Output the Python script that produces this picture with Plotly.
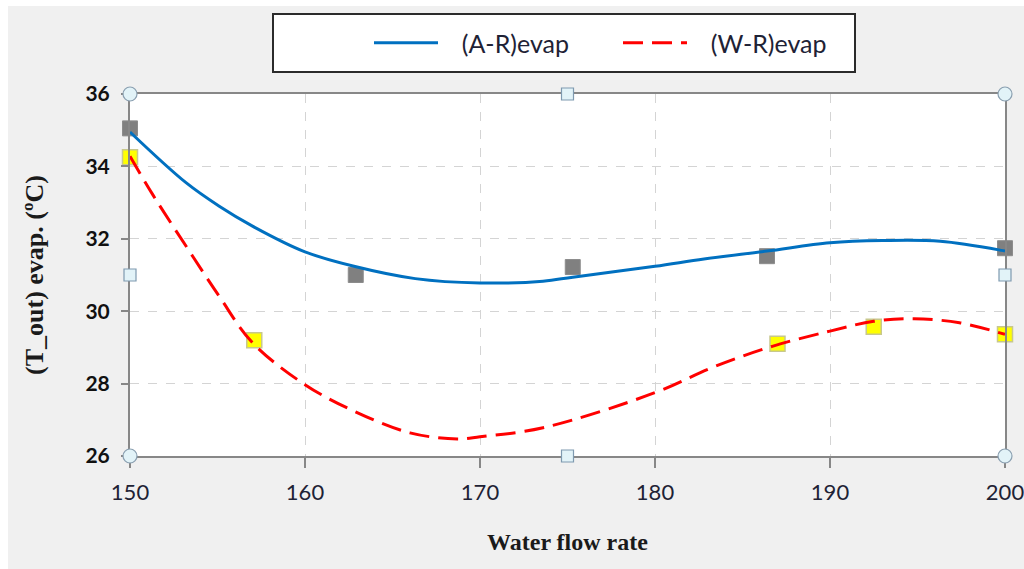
import plotly.graph_objects as go

# ---- data ----
ar_x = [150, 162.9, 175.3, 186.4, 200]
ar_y = [35.05, 31.0, 31.22, 31.52, 31.74]
wr_x = [150, 157.1, 187.0, 192.5, 200]
wr_y = [34.25, 29.2, 29.1, 29.57, 29.36]

# trend curves
ar_curve_x = [150, 153.2, 155.1, 157.0, 160.0, 162.8, 166.3, 170.0, 173.6, 175.3, 180.0, 182.8, 186.4, 190.0, 193.0, 196.3, 199.8, 200]
ar_curve_y = [34.95, 33.55, 32.90, 32.35, 31.64, 31.24, 30.90, 30.78, 30.83, 30.94, 31.24, 31.44, 31.66, 31.89, 31.95, 31.93, 31.68, 31.66]
wr_curve_x = [150, 151.3, 153.2, 155.1, 157.0, 160.0, 162.8, 166.0, 168.7, 170.0, 173.6, 180.0, 183.3, 186.7, 190.0, 192.5, 194.8, 197.4, 200]
wr_curve_y = [34.28, 33.22, 31.80, 30.41, 29.13, 27.97, 27.24, 26.64, 26.47, 26.53, 26.78, 27.75, 28.45, 29.03, 29.45, 29.72, 29.79, 29.68, 29.36]

x_ticks = [150, 160, 170, 180, 190, 200]
y_ticks = [26, 28, 30, 32, 34, 36]
X_RANGE = [150, 200]
Y_RANGE = [26, 36]

W, H = 1024, 569
PW, PH = 875, 362
ML, MT = 130, 94
MR, MB = W - ML - PW, H - MT - PH

def px_x(p):  # page pixel -> paper x
    return (p - ML) / PW

def px_y(p):  # page pixel -> paper y
    return (MT + PH - p) / PH

sans = "Lato, Carlito, Liberation Sans, sans-serif"
serif = "Liberation Serif, Times New Roman, serif"
SP = "\u2002\u2005"

fig = go.Figure()

fig.add_trace(go.Scatter(x=ar_x, y=ar_y, mode="markers", showlegend=False,
                         marker=dict(symbol="square", size=15, color="#808080",
                                     line=dict(color="#8c8c8c", width=1)),
                         cliponaxis=False, hoverinfo="x+y"))
fig.add_trace(go.Scatter(x=wr_x, y=wr_y, mode="markers", showlegend=False,
                         marker=dict(symbol="square", size=15, color="#ffff00",
                                     line=dict(color="#c8c88c", width=1.5)),
                         cliponaxis=False, hoverinfo="x+y"))
fig.add_trace(go.Scatter(x=ar_curve_x, y=ar_curve_y, mode="lines", name=SP + "(A-R)evap",
                         line=dict(color="#0070c0", width=3, shape="spline", smoothing=1)))
fig.add_trace(go.Scatter(x=wr_curve_x, y=wr_curve_y, mode="lines", name=SP + "(W-R)evap",
                         line=dict(color="#ff0000", width=3, shape="spline", smoothing=1,
                                   dash="20px,9px")))

shapes = []
# white strips along the top and left edge of the picture
shapes.append(dict(type="rect", xref="paper", yref="paper", layer="below",
                   x0=px_x(0), x1=px_x(W), y0=px_y(6), y1=px_y(0),
                   fillcolor="white", line=dict(width=0)))
shapes.append(dict(type="rect", xref="paper", yref="paper", layer="below",
                   x0=px_x(0), x1=px_x(8), y0=px_y(H), y1=px_y(0),
                   fillcolor="white", line=dict(width=0)))
# legend box
shapes.append(dict(type="rect", xref="paper", yref="paper", layer="below",
                   x0=px_x(273), x1=px_x(855), y0=px_y(72), y1=px_y(14),
                   fillcolor="white", line=dict(color="#2b2b2b", width=2)))

# selection handles at corners (circles) and mid-edges (squares), paper-anchored
for ax in (0, 1):
    for ay in (0, 1):
        shapes.append(dict(type="circle", xref="paper", yref="paper", xsizemode="pixel",
                           ysizemode="pixel", xanchor=ax, yanchor=ay,
                           x0=-7, x1=7, y0=-7, y1=7, layer="above",
                           fillcolor="#e2f3f8", line=dict(color="#8a9fb0", width=1.2)))
for ax, ay in [(0.5, 0), (0.5, 1), (0, 0.5), (1, 0.5)]:
    shapes.append(dict(type="rect", xref="paper", yref="paper", xsizemode="pixel",
                       ysizemode="pixel", xanchor=ax, yanchor=ay,
                       x0=-6, x1=6, y0=-6, y1=6, layer="above",
                       fillcolor="#e2f3f8", line=dict(color="#7f9ab0", width=1.2)))

fig.update_layout(
    width=W, height=H,
    margin=dict(l=ML, r=MR, t=MT, b=MB),
    paper_bgcolor="#f0f0f0",
    plot_bgcolor="white",
    shapes=shapes,
    showlegend=True,
    legend=dict(orientation="h", x=px_x(369), xanchor="left", y=px_y(43), yanchor="middle",
                bgcolor="rgba(0,0,0,0)", borderwidth=0, itemwidth=64,
                entrywidth=170, entrywidthmode="pixels",
                font=dict(family=sans, size=25, color="#1e2235")),
    xaxis=dict(range=X_RANGE, tickvals=x_ticks, ticktext=[str(v) for v in x_ticks],
               showgrid=True, gridcolor="#d4d4d4", griddash="dash", gridwidth=1,
               showline=True, mirror=True, linecolor="#878787", linewidth=2,
               ticks="outside", ticklen=10, tickcolor="#878787", tickwidth=1.5,
               ticklabelstandoff=6, automargin=False, ticklabeloverflow="allow",
               tickfont=dict(family=sans, size=22, color="#1e2235"),
               zeroline=False,
               title=dict(text="<b>Water flow rate</b>", standoff=29,
                          font=dict(family=serif, size=24, color="#1a1a1a"))),
    yaxis=dict(range=Y_RANGE, tickvals=y_ticks, ticktext=["<b>%d</b>" % v for v in y_ticks],
               showgrid=True, gridcolor="#d4d4d4", griddash="dash", gridwidth=1,
               showline=True, mirror=True, linecolor="#878787", linewidth=2,
               ticks="outside", ticklen=7, tickcolor="#878787", tickwidth=1.5,
               ticklabelstandoff=7, automargin=False, ticklabeloverflow="allow",
               tickfont=dict(family=sans, size=21, color="#111111"),
               zeroline=False,
               title=dict(text="<b>(T_out) evap. (ºC)</b>", standoff=34,
                          font=dict(family=serif, size=26, color="#1a1a1a"))),
)

fig.write_html("out.html", config={"displayModeBar": False},
               post_script="document.body.style.margin='0';document.body.style.overflow='hidden';")
